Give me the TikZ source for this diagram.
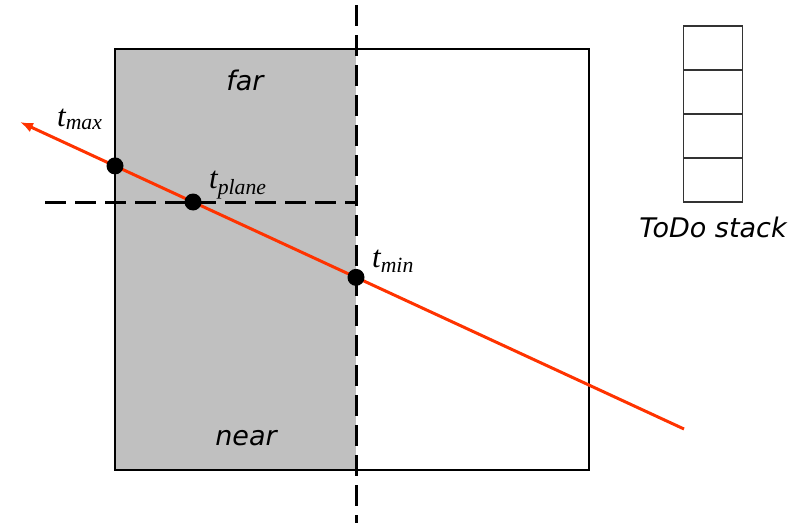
\documentclass[tikz,border=0pt]{standalone}
\usepackage{fontspec}
\setmainfont{DejaVu Sans}
\newfontfamily\timesfont{Liberation Serif}
\usetikzlibrary{arrows.meta,positioning}
\definecolor{cellgray}{RGB}{192,192,192}
\definecolor{rayred}{RGB}{255,51,0}

\begin{document}
\begin{tikzpicture}[x=1pt, y=-1pt,
				dot/.style={circle, fill=black, inner sep=0pt, minimum size=17pt},
				region/.style={font=\fontsize{27}{32}\selectfont\itshape, inner sep=0pt},
				tlabel/.style={font=\timesfont\fontsize{31}{36}\selectfont\itshape, inner sep=0pt, anchor=base west},
				cell/.style={draw=black!80, line width=1.4pt, minimum width=59pt, minimum height=44pt, inner sep=0pt, outer sep=0pt},
				splitline/.style={line width=3pt, dash pattern=on 21pt off 9pt},
				ray/.style={draw=rayred, line width=3pt, -{Latex[length=13pt,width=10pt]}}]
				\useasboundingbox (0,0) rectangle (810,525);
				% Zelle
				\fill[cellgray] (115,49) rectangle (356,470);
				\draw[line width=2.6pt] (115,49) rectangle (589,470);
				\coordinate (boxtop) at (115,49);
				\coordinate (boxbot) at (115,470);
				% Teilungsebene
				\coordinate (vtop) at (356,5);
				\coordinate (vbot) at (356,523);
				\draw[splitline] (vtop) -- (vbot);
				\coordinate (hleft) at (45,202);
				\coordinate (hright) at (356,202);
				\draw[splitline] (hleft) -- (hright);
				% Strahl
				\coordinate (rstart) at (684,429);
				\coordinate (rtip) at (20,122);
				\draw[ray] (rstart) -- (rtip);
				% Schnittpunkte
				\node[dot] (tmax) at (intersection of rstart--rtip and boxtop--boxbot) {};
				\node[dot] (tplane) at (intersection of rstart--rtip and hleft--hright) {};
				\node[dot] (tmin) at (intersection of rstart--rtip and vtop--vbot) {};
				% Beschriftung
				\node[tlabel] (lmax) at (57,126) {t\textsubscript{max}};
				\node[tlabel] (lplane) at (209,188) {t\textsubscript{plane}};
				\node[tlabel] (lmin) at (372,267) {t\textsubscript{min}};
				\node[region] (far) at (245,80) {far};
				\node[region] (near) at (246,438) {near};
				% Stapel
				\node[cell] (cell1) at (713,48) {};
				\foreach \i [count=\j from 2] in {1,2,3}
					\node[cell, below=0pt of cell\i] (cell\j) {};
				\node[region, below=15pt of cell4] (stack) {ToDo stack};
\end{tikzpicture}
\end{document}
